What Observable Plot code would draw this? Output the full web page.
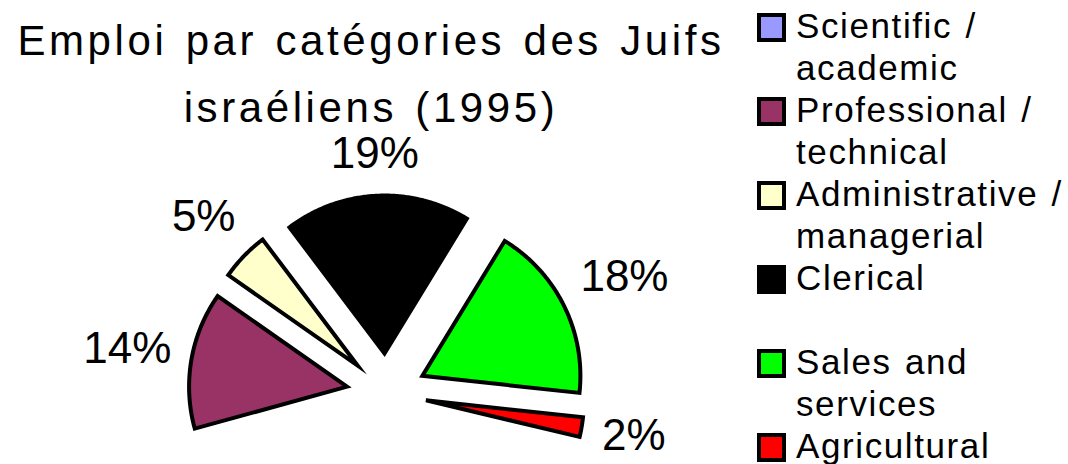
<!DOCTYPE html>
<html><head><meta charset="utf-8">
<script src="https://cdn.jsdelivr.net/npm/d3@7"></script>
<script src="https://cdn.jsdelivr.net/npm/@observablehq/plot@0.6"></script>
<style>
html,body{margin:0;padding:0;background:#fff;overflow:hidden;}
#wrap{position:relative;width:1068px;height:464px;overflow:hidden;font-family:"Liberation Sans",Arial,sans-serif;color:#000;}
#chart{position:absolute;left:0;top:0;}
#title{position:absolute;left:0;top:7px;width:742px;text-align:center;font-size:42px;line-height:67px;letter-spacing:3.6px;word-spacing:3px;white-space:nowrap;}
#legend{position:absolute;left:757px;top:5px;}
.item{position:relative;height:84px;}
.sw{position:absolute;left:0;top:8px;width:29px;height:29px;box-sizing:border-box;border:4px solid #000;}
.lab{position:absolute;left:39px;top:0;width:278px;font-size:35px;line-height:42px;letter-spacing:1.6px;word-spacing:2px;}
</style></head>
<body><div id="wrap"><div id="chart"></div><div id="title"></div><div id="legend"></div></div>
<script>
// ---- data ----
const titleLines = ["Emploi par catégories des Juifs", "israéliens (1995)"];
const categories = ["Scientific / academic", "Professional / technical", "Administrative / managerial", "Clerical", "Sales and services", "Agricultural"];
const colors = ["#9999ff", "#993366", "#ffffcc", "#000000", "#00ff00", "#ff0000"];
const shares = [null, 14, 5, 19, 18, 2]; // percent; Scientific slice lies outside the visible frame

// ---- layout ----
const W = 1068, H = 464;
const cx = 386, cy = 393, R = 158, explode = 40, pad = 18;
const startAngle = -105.4; // degrees clockwise from 12 o'clock, start of first visible slice
const labelFont = 44;

const rad = d => d * Math.PI / 180;
const slices = [];
let acc = startAngle;
categories.forEach((cat, i) => {
  const v = shares[i];
  if (v == null) return;
  const a0 = acc, a1 = acc + v * 3.6;
  acc = a1;
  slices.push({cat, value: v, a0, a1, mid: (a0 + a1) / 2});
});

const pts = [];
for (const s of slices) {
  const off = explode / R;
  const ox = off * Math.sin(rad(s.mid)), oy = off * Math.cos(rad(s.mid));
  pts.push({cat: s.cat, x: ox, y: oy});
  const n = Math.max(2, Math.ceil(s.a1 - s.a0) * 2);
  for (let k = 0; k <= n; k++) {
    const t = s.a0 + (s.a1 - s.a0) * k / n;
    pts.push({cat: s.cat, x: ox + Math.sin(rad(t)), y: oy + Math.cos(rad(t))});
  }
}

const labels = slices.map(s => {
  const text = s.value + "%";
  const w = (String(s.value).length * 0.556 + 0.889) * labelFont;
  const h = 44;
  const sn = Math.sin(rad(s.mid)), cs = Math.cos(rad(s.mid));
  const d = (explode + R + pad + Math.abs(sn) * w / 2 + Math.abs(cs) * h / 2) / R;
  return {text, x: d * sn, y: d * cs};
});

const plot = Plot.plot({
  width: W, height: H,
  margin: 0,
  x: {domain: [-cx / R, (W - cx) / R], range: [0, W], axis: null},
  y: {domain: [-(H - cy) / R, cy / R], range: [H, 0], axis: null},
  color: {domain: categories, range: colors},
  style: {fontFamily: '"Liberation Sans", Arial, sans-serif', background: "transparent"},
  marks: [
    Plot.line(pts, {x: "x", y: "y", z: "cat", fill: "cat", stroke: "#000", strokeWidth: 4,
      strokeLinejoin: "miter", strokeMiterlimit: 10, curve: "linear-closed"}),
    Plot.text(labels, {x: "x", y: "y", text: "text", fontSize: labelFont, fill: "#000",
      textAnchor: "middle", lineAnchor: "middle"})
  ]
});
document.getElementById("chart").appendChild(plot);

document.getElementById("title").innerHTML = titleLines.map(t => `<div>${t}</div>`).join("");

const legend = document.getElementById("legend");
categories.forEach((c, i) => {
  const it = document.createElement("div");
  it.className = "item";
  it.innerHTML = `<div class="sw" style="background:${colors[i]}"></div><div class="lab">${c}</div>`;
  legend.appendChild(it);
});
</script>
</body></html>
